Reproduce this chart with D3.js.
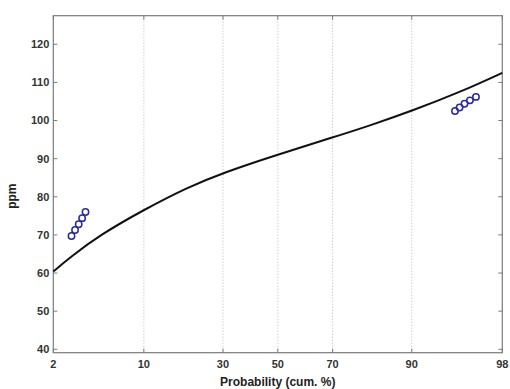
<!DOCTYPE html>
<html>
<head>
<meta charset="utf-8">
<script src="https://cdn.jsdelivr.net/npm/d3@7/dist/d3.min.js"></script>
<style>
  html, body { margin: 0; padding: 0; background: #fff; }
  svg { display: block; }
  text { font-family: "Liberation Sans", Arial, sans-serif; }
</style>
</head>
<body>
<svg id="chart" width="510" height="389"></svg>
<script>
// ---- data (cumulative probability in %, concentration in ppm) ----
const curveProb  = [1.586, 2.34, 4.45, 10, 19.2, 30, 50, 70, 81.1, 90, 96.2, 98.414];
const curveValue = [60.4, 64.1, 70.0, 76.6, 82.4, 86.3, 91.1, 95.55, 98.7, 102.5, 107.8, 112.5];

const lowProb   = [2.42, 2.62, 2.84, 3.06, 3.29];
const lowValue  = [69.7, 71.3, 72.8, 74.4, 76.0];
const highProb  = [95.5, 95.9, 96.3, 96.7, 97.1];
const highValue = [102.5, 103.4, 104.4, 105.3, 106.2];

const xProbLimits = [1.586, 98.414];          // axis limits (labelled 2 and 98)
const xTickProbs  = [1.586, 10, 30, 50, 70, 90, 98.414];
const yTicks      = [40, 50, 60, 70, 80, 90, 100, 110, 120];
const yLimits     = [39.1, 127.5];

// ---- layout ----
const mLeft = 53.3, mRight = 502.3, mTop = 15.7, mBottom = 352.7;
const svg = d3.select("#chart");

function inverseNormal(p) {
  // Acklam's approximation
  const a = [-3.969683028665376e+01, 2.209460984245205e+02, -2.759285104469687e+02, 1.383577518672690e+02, -3.066479806614716e+01, 2.506628277459239e+00];
  const b = [-5.447609879822406e+01, 1.615858368580409e+02, -1.556989798598866e+02, 6.680131188771972e+01, -1.328068155288572e+01];
  const c = [-7.784894002430293e-03, -3.223964580411365e-01, -2.400758277161838e+00, -2.549732539343734e+00, 4.374664141464968e+00, 2.938163982698783e+00];
  const d = [7.784695709041462e-03, 3.224671290700398e-01, 2.445134137142996e+00, 3.754408661907416e+00];
  const pl = 0.02425, ph = 1 - pl;
  let q, r;
  if (p < pl) { q = Math.sqrt(-2 * Math.log(p)); return (((((c[0]*q+c[1])*q+c[2])*q+c[3])*q+c[4])*q+c[5]) / ((((d[0]*q+d[1])*q+d[2])*q+d[3])*q+1); }
  if (p <= ph) { q = p - 0.5; r = q*q; return (((((a[0]*r+a[1])*r+a[2])*r+a[3])*r+a[4])*r+a[5])*q / (((((b[0]*r+b[1])*r+b[2])*r+b[3])*r+b[4])*r+1); }
  q = Math.sqrt(-2 * Math.log(1 - p));
  return -(((((c[0]*q+c[1])*q+c[2])*q+c[3])*q+c[4])*q+c[5]) / ((((d[0]*q+d[1])*q+d[2])*q+d[3])*q+1);
}
const probit = pct => inverseNormal(pct / 100);

const zScale = d3.scaleLinear().domain(xProbLimits.map(probit)).range([mLeft, mRight]);
const x = p => zScale(probit(p));
const y = d3.scaleLinear().domain(yLimits).range([mBottom, mTop]);

const axisColor = "#7a7a7a";

// vertical dotted grid lines at inner ticks
svg.append("g").selectAll("line")
  .data(xTickProbs.slice(1, -1))
  .join("line")
  .attr("x1", d => x(d)).attr("x2", d => x(d))
  .attr("y1", mTop).attr("y2", mBottom)
  .attr("stroke", "#b8b8b8").attr("stroke-width", 1)
  .attr("stroke-dasharray", "1,2");

// frame
svg.append("rect")
  .attr("x", mLeft).attr("y", mTop)
  .attr("width", mRight - mLeft).attr("height", mBottom - mTop)
  .attr("fill", "none").attr("stroke", axisColor).attr("stroke-width", 1.2);

// y ticks (inside, left and right)
const tl = 4;
const yt = svg.append("g");
yt.selectAll("line.l").data(yTicks).join("line").attr("class", "l")
  .attr("x1", mLeft).attr("x2", mLeft + tl)
  .attr("y1", d => y(d)).attr("y2", d => y(d))
  .attr("stroke", axisColor);
yt.selectAll("line.r").data(yTicks).join("line").attr("class", "r")
  .attr("x1", mRight).attr("x2", mRight - tl)
  .attr("y1", d => y(d)).attr("y2", d => y(d))
  .attr("stroke", axisColor);
yt.selectAll("text").data(yTicks).join("text")
  .attr("x", mLeft - 4).attr("y", d => y(d))
  .attr("dy", "0.36em").attr("text-anchor", "end")
  .attr("font-size", 11).attr("font-weight", "bold").attr("fill", "#333")
  .text(d => d);

// x ticks (inside, bottom and top)
const xt = svg.append("g");
xt.selectAll("line.b").data(xTickProbs).join("line").attr("class", "b")
  .attr("x1", d => x(d)).attr("x2", d => x(d))
  .attr("y1", mBottom).attr("y2", mBottom - tl)
  .attr("stroke", axisColor);
xt.selectAll("line.t").data(xTickProbs).join("line").attr("class", "t")
  .attr("x1", d => x(d)).attr("x2", d => x(d))
  .attr("y1", mTop).attr("y2", mTop + tl)
  .attr("stroke", axisColor);
xt.selectAll("text").data(xTickProbs).join("text")
  .attr("x", d => x(d)).attr("y", mBottom + 15)
  .attr("text-anchor", "middle")
  .attr("font-size", 11).attr("font-weight", "bold").attr("fill", "#333")
  .text(d => d3.format(".0f")(d));

// axis titles
svg.append("text")
  .attr("x", (mLeft + mRight) / 2).attr("y", 386)
  .attr("text-anchor", "middle")
  .attr("font-size", 12).attr("font-weight", "bold").attr("fill", "#222")
  .text("Probability (cum. %)");
svg.append("text")
  .attr("transform", `translate(16,${(mTop + mBottom) / 2 + 12}) rotate(-90)`)
  .attr("text-anchor", "middle")
  .attr("font-size", 12).attr("font-weight", "bold").attr("fill", "#222")
  .text("ppm");

// fitted curve
const curvePts = curveProb.map((p, i) => [x(p), y(curveValue[i])]);
svg.append("path")
  .attr("d", d3.line().curve(d3.curveBasis)(curvePts))
  .attr("fill", "none").attr("stroke", "#111").attr("stroke-width", 2);

// data points
const pts = lowProb.map((p, i) => [p, lowValue[i]])
  .concat(highProb.map((p, i) => [p, highValue[i]]));
svg.append("g").selectAll("circle").data(pts).join("circle")
  .attr("cx", d => x(d[0])).attr("cy", d => y(d[1]))
  .attr("r", 3.2).attr("fill", "none")
  .attr("stroke", "#2a2aa0").attr("stroke-width", 1.5);
</script>
</body>
</html>
